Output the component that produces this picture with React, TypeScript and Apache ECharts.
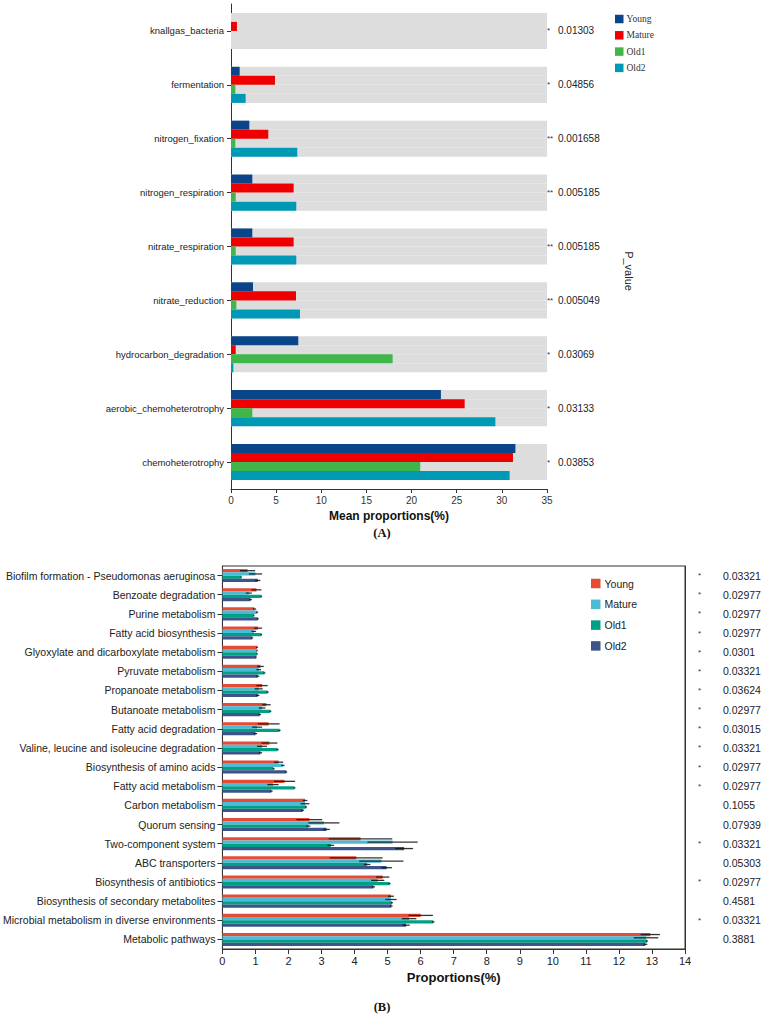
import React, { useEffect, useRef } from 'react';
import * as echarts from 'echarts';

const groups = ['Young', 'Mature', 'Old1', 'Old2'];

// ---- Panel A: functional groups ----
const funcCategories = [
  'knallgas_bacteria',
  'fermentation',
  'nitrogen_fixation',
  'nitrogen_respiration',
  'nitrate_respiration',
  'nitrate_reduction',
  'hydrocarbon_degradation',
  'aerobic_chemoheterotrophy',
  'chemoheterotrophy',
];
const funcYoung = [0, 0.96, 2.03, 2.36, 2.36, 2.44, 7.45, 23.25, 31.5];
const funcMature = [0.66, 4.87, 4.13, 6.94, 6.94, 7.2, 0.52, 25.88, 31.23];
const funcOld1 = [0, 0.48, 0.48, 0.52, 0.52, 0.59, 17.9, 2.36, 20.96];
const funcOld2 = [0, 1.62, 7.34, 7.23, 7.23, 7.64, 0.26, 29.28, 30.86];
const funcPValues = ['0.01303', '0.04856', '0.001658', '0.005185', '0.005185', '0.005049', '0.03069', '0.03133', '0.03853'];
const funcStars = ['*', '*', '**', '**', '**', '**', '*', '*', '*'];
const funcTicks = [0, 5, 10, 15, 20, 25, 30, 35];
const funcColors = ['#0a4589', '#ee0000', '#3fb54a', '#0099b5'];

// ---- Panel B: KEGG pathways ----
const pathCategories = [
  'Biofilm formation - Pseudomonas aeruginosa',
  'Benzoate degradation',
  'Purine metabolism',
  'Fatty acid biosynthesis',
  'Glyoxylate and dicarboxylate metabolism',
  'Pyruvate metabolism',
  'Propanoate metabolism',
  'Butanoate metabolism',
  'Fatty acid degradation',
  'Valine, leucine and isoleucine degradation',
  'Biosynthesis of amino acids',
  'Fatty acid metabolism',
  'Carbon metabolism',
  'Quorum sensing',
  'Two-component system',
  'ABC transporters',
  'Biosynthesis of antibiotics',
  'Biosynthesis of secondary metabolites',
  'Microbial metabolism in diverse environments',
  'Metabolic pathways',
];
const pathYoung = [0.76, 1.03, 0.97, 1.08, 1.05, 1.15, 1.2, 1.33, 1.4, 1.42, 1.7, 1.88, 2.5, 2.63, 4.18, 4.05, 4.85, 5.1, 6.0, 12.95];
const pathYoungErr = [0.23, 0.15, 0.05, 0.12, 0.03, 0.1, 0.17, 0.13, 0.33, 0.24, 0.14, 0.32, 0.07, 0.39, 0.96, 0.8, 0.2, 0.09, 0.37, 0.29];
const pathMature = [1.0, 0.8, 1.05, 0.95, 1.05, 1.1, 1.1, 1.2, 1.05, 1.2, 1.83, 1.53, 2.5, 3.07, 5.15, 4.81, 4.7, 5.1, 5.65, 12.82];
const pathMatureErr = [0.2, 0.09, 0.03, 0.07, 0.02, 0.07, 0.12, 0.1, 0.15, 0.15, 0.05, 0.17, 0.13, 0.47, 0.76, 0.67, 0.2, 0.17, 0.22, 0.37];
const pathOld1 = [0.57, 1.18, 0.95, 1.18, 1.05, 1.27, 1.37, 1.45, 1.73, 1.67, 1.55, 2.18, 2.53, 2.6, 3.28, 4.38, 5.06, 5.13, 6.38, 12.85];
const pathOld1Err = [0.02, 0.02, 0.02, 0.02, 0.02, 0.03, 0.03, 0.03, 0.03, 0.03, 0.03, 0.03, 0.03, 0.06, 0.1, 0.1, 0.03, 0.03, 0.04, 0.03];
const pathOld2 = [1.07, 0.85, 1.07, 0.9, 1.02, 1.07, 1.07, 1.13, 1.0, 1.15, 1.93, 1.48, 2.43, 3.15, 5.5, 4.97, 4.57, 5.11, 5.56, 12.8];
const pathOld2Err = [0.08, 0.04, 0.03, 0.03, 0.02, 0.05, 0.05, 0.04, 0.05, 0.05, 0.03, 0.04, 0.04, 0.1, 0.27, 0.16, 0.05, 0.04, 0.11, 0.06];
const pathPValues = ['0.03321', '0.02977', '0.02977', '0.02977', '0.0301', '0.03321', '0.03624', '0.02977', '0.03015', '0.03321', '0.02977', '0.02977', '0.1055', '0.07939', '0.03321', '0.05303', '0.02977', '0.4581', '0.03321', '0.3881'];
const pathTicks = [0, 1, 2, 3, 4, 5, 6, 7, 8, 9, 10, 11, 12, 13, 14];
const pathColors = ['#e64b35', '#4dbbd5', '#00a087', '#3c5488'];

const SANS = '"Liberation Sans", Arial, Helvetica, sans-serif';
const SERIF = '"Liberation Serif", "Times New Roman", serif';

function buildFunctionOption(): any {
  const values = [funcYoung, funcMature, funcOld1, funcOld2];
  return {
    animation: false,
    textStyle: { fontFamily: SANS },
    grid: { left: 231, top: 4, width: 316, height: 485 },
    legend: {
      orient: 'vertical',
      left: 615,
      top: 14,
      padding: 0,
      icon: 'rect',
      itemWidth: 8.5,
      itemHeight: 8.5,
      itemGap: 6.3,
      textStyle: { fontFamily: SERIF, fontSize: 9.5, color: '#333', lineHeight: 9, padding: [0, 0, 0, -2] },
      data: groups,
    },
    xAxis: {
      type: 'value',
      min: funcTicks[0],
      max: funcTicks[funcTicks.length - 1],
      interval: funcTicks[1] - funcTicks[0],
      splitLine: { show: false },
      axisLine: { show: true, lineStyle: { color: '#333', width: 1 } },
      axisTick: { show: true, length: 4, lineStyle: { color: '#333' } },
      axisLabel: { fontSize: 10, color: '#333', margin: 6 },
      name: 'Mean proportions(%)',
      nameLocation: 'middle',
      nameGap: 18,
      nameTextStyle: { fontWeight: 'bold', fontSize: 12, color: '#111' },
    },
    yAxis: [
      {
        type: 'category',
        data: funcCategories,
        inverse: true,
        axisLine: { show: true, lineStyle: { color: '#333', width: 1 } },
        axisTick: { show: true, alignWithLabel: true, length: 4, lineStyle: { color: '#333' } },
        axisLabel: { fontSize: 9.5, color: '#222', margin: 7 },
      },
      {
        type: 'category',
        data: funcPValues,
        inverse: true,
        position: 'right',
        axisLine: { show: false },
        axisTick: { show: false },
        axisLabel: {
          margin: 0,
          formatter: (v: string, i: number) => `{s|${funcStars[i]}}{v|${v}}`,
          rich: {
            s: { width: 11, fontSize: 8, color: '#333', align: 'left' },
            v: { fontSize: 10, color: '#222' },
          },
        },
      },
    ],
    series: groups.map((g, i) => ({
      type: 'bar',
      name: g,
      data: values[i],
      barGap: 0,
      barCategoryGap: '33%',
      showBackground: true,
      backgroundStyle: { color: '#dddddd' },
      itemStyle: { color: funcColors[i] },
    })),
    graphic: [
      {
        type: 'text',
        x: 629,
        y: 271,
        rotation: -Math.PI / 2,
        style: {
          text: 'P_value',
          fontSize: 11,
          fontFamily: SANS,
          fill: '#222',
          align: 'center',
          verticalAlign: 'middle',
        },
      },
      {
        type: 'text',
        x: 382,
        y: 533,
        style: {
          text: '(A)',
          fontSize: 12.5,
          fontWeight: 'bold',
          fontFamily: SERIF,
          fill: '#111',
          align: 'center',
          verticalAlign: 'middle',
        },
      },
    ],
  };
}

const PATH_GAP = 0.32;

function buildPathwayOption(): any {
  const values = [pathYoung, pathMature, pathOld1, pathOld2];
  const errors = [pathYoungErr, pathMatureErr, pathOld1Err, pathOld2Err];
  const bars = groups.map((g, i) => ({
    type: 'bar',
    name: g,
    data: values[i],
    barGap: 0,
    barCategoryGap: `${PATH_GAP * 100}%`,
    itemStyle: { color: pathColors[i] },
    z: 2,
  }));
  // Horizontal standard-deviation whiskers, one per bar
  const errorBars = groups.map((g, gi) => ({
    type: 'custom',
    name: `${g} sd`,
    z: 3,
    silent: true,
    dimensions: ['mean', 'err', 'cat'],
    encode: { x: 'mean', y: 'cat' },
    data: values[gi].map((m, k) => [m, errors[gi][k], k]),
    renderItem: (_params: any, api: any) => {
      const mean = api.value(0);
      const err = api.value(1);
      const cat = api.value(2);
      const band = api.size([0, 1])[1];
      const total = band * (1 - PATH_GAP);
      const bw = total / groups.length;
      const c = api.coord([mean, cat]);
      const y = c[1] - total / 2 + bw * (gi + 0.5);
      const x1 = api.coord([mean - err, cat])[0];
      const x2 = api.coord([mean + err, cat])[0];
      return {
        type: 'line',
        shape: { x1, y1: y, x2, y2: y },
        style: { stroke: '#111', lineWidth: 1.3, opacity: 0.85 },
      };
    },
  }));
  return {
    animation: false,
    textStyle: { fontFamily: SANS },
    grid: { left: 218, top: 21, width: 467, height: 383, show: true, borderColor: '#333', borderWidth: 1 },
    legend: {
      orient: 'vertical',
      left: 591,
      top: 33,
      padding: 0,
      icon: 'rect',
      itemWidth: 9.5,
      itemHeight: 9.5,
      itemGap: 9.8,
      textStyle: { fontSize: 10.5, color: '#222', lineHeight: 9.5, padding: [0, 0, 0, -1] },
      data: groups,
    },
    xAxis: {
      type: 'value',
      min: pathTicks[0],
      max: pathTicks[pathTicks.length - 1],
      interval: pathTicks[1] - pathTicks[0],
      splitLine: { show: false },
      axisLine: { show: true, lineStyle: { color: '#333', width: 1 } },
      axisTick: { show: true, length: 5, lineStyle: { color: '#333' } },
      axisLabel: { fontSize: 11, color: '#222', margin: 6 },
      name: 'Proportions(%)',
      nameLocation: 'middle',
      nameGap: 20,
      nameTextStyle: { fontWeight: 'bold', fontSize: 13, color: '#111' },
    },
    yAxis: [
      {
        type: 'category',
        data: pathCategories,
        inverse: true,
        axisLine: { show: true, lineStyle: { color: '#333', width: 1 } },
        axisTick: { show: true, alignWithLabel: true, length: 5, lineStyle: { color: '#333' } },
        axisLabel: { fontSize: 10.5, color: '#222', margin: 7 },
      },
      {
        type: 'category',
        data: pathPValues,
        inverse: true,
        position: 'right',
        axisLine: { show: true, lineStyle: { color: '#333', width: 1 } },
        axisTick: { show: false },
        axisLabel: {
          margin: 13,
          formatter: (v: string) => `{s|${parseFloat(v) < 0.05 ? '*' : ''}}{v|${v}}`,
          rich: {
            s: { width: 25, fontSize: 8, color: '#333', align: 'left' },
            v: { fontSize: 10.5, color: '#222' },
          },
        },
      },
    ],
    series: [...bars, ...errorBars],
    graphic: [
      {
        type: 'text',
        x: 382,
        y: 462,
        style: {
          text: '(B)',
          fontSize: 12.5,
          fontWeight: 'bold',
          fontFamily: SERIF,
          fill: '#111',
          align: 'center',
          verticalAlign: 'middle',
        },
      },
    ],
  };
}

export default function App() {
  const refA = useRef<HTMLDivElement>(null);
  const refB = useRef<HTMLDivElement>(null);

  useEffect(() => {
    const chartA = echarts.init(refA.current!, null, { renderer: 'svg' });
    const chartB = echarts.init(refB.current!, null, { renderer: 'svg' });
    chartA.setOption(buildFunctionOption());
    chartB.setOption(buildPathwayOption());
    return () => {
      chartA.dispose();
      chartB.dispose();
    };
  }, []);

  return (
    <div style={{ position: 'absolute', left: 0, top: 0, width: 765, height: 1019, background: '#fff' }}>
      <div ref={refA} style={{ position: 'absolute', left: 0, top: 0, width: 765, height: 545 }} />
      <div ref={refB} style={{ position: 'absolute', left: 0, top: 545, width: 765, height: 474 }} />
    </div>
  );
}
